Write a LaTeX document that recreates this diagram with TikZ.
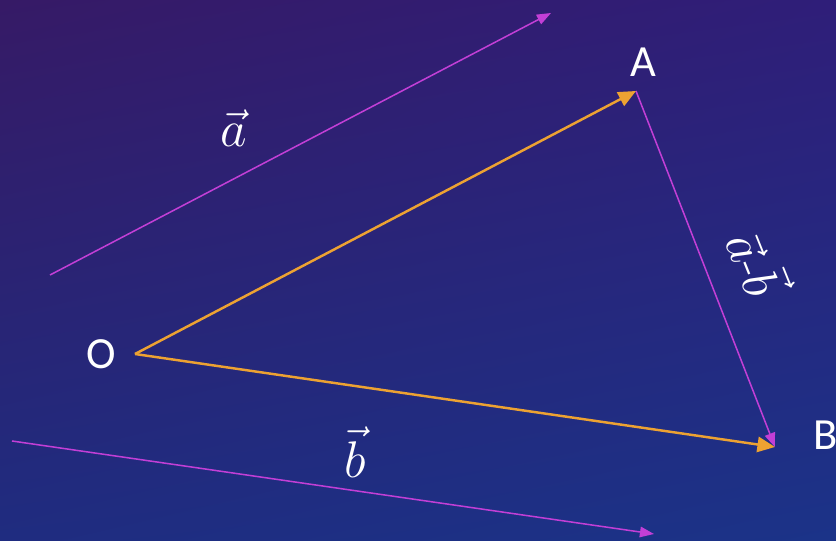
\RequirePackage{fix-cm}
\documentclass[tikz,border=0pt]{standalone}
\usepackage{fontspec}
\newfontfamily\labelfont{Carlito}
\usetikzlibrary{arrows.meta,shadings}
\definecolor{bgUL}{HTML}{361A66}
\definecolor{bgUR}{HTML}{2F1E79}
\definecolor{bgLL}{HTML}{1F2C80}
\definecolor{bgLR}{HTML}{1B3388}
\definecolor{vecmag}{HTML}{C23FD6}
\definecolor{vecorange}{HTML}{EDA232}
\tikzset{
  magline/.style={draw=vecmag, line width=1.3pt, -{Triangle[length=12pt,width=9pt]}},
  orangeline/.style={draw=vecorange, line width=2.1pt, -{Triangle[length=15pt,width=13pt]}},
  ptlabel/.style={text=white, font=\labelfont\fontsize{38}{40}\selectfont, inner sep=0pt},
  veclabel/.style={text=white, font=\fontsize{44}{46}\selectfont, inner sep=0pt}
}
\begin{document}
\begin{tikzpicture}[x=0.03cm, y=-0.03cm]
\useasboundingbox (0,0) rectangle (836,541);
\shade[upper left=bgUL, upper right=bgUR, lower left=bgLL, lower right=bgLR] (0,0) rectangle (836,541);
% points
\coordinate (O) at (135,354);
\coordinate (A) at (636,91);
\coordinate (B) at (775,447);
\coordinate (a1) at (50,275);
\coordinate (a2) at (551,13);
\coordinate (b1) at (12,441);
\coordinate (b2) at (654,534);
% labels
\node[ptlabel] (Olab) at (101,354) {O};
\node[ptlabel] (Alab) at (643,62) {A};
\node[ptlabel] (Blab) at (826,435) {B};
\node[veclabel] (alab) at (234,128) {$\vec{a}$};
\node[veclabel] (blab) at (355,452) {$\vec{b}$};
\node[veclabel, rotate=-68] (ablab) at (760,262) {$\vec{a}$-$\vec{b}$};
% connectors
\draw[magline] (a1) -- (a2);
\draw[magline] (b1) -- (b2);
\draw[magline] (A) -- (B);
\draw[orangeline] (O) -- (A);
\draw[orangeline] (O) -- (B);
\end{tikzpicture}
\end{document}
